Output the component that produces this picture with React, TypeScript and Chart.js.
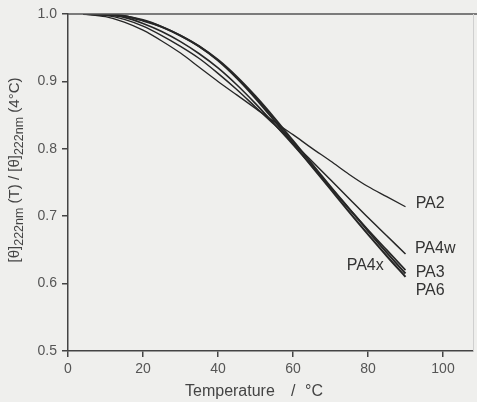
import React, { useEffect, useRef } from "react";
import { Chart, registerables } from "chart.js";

Chart.register(...registerables);

const temps = [4, 10, 15, 20, 25, 30, 35, 40, 45, 50, 55, 60, 65, 70, 75, 80, 85, 90];
const pa2 = [1.0, 0.996, 0.988, 0.976, 0.96, 0.942, 0.921, 0.9, 0.88, 0.86, 0.84, 0.821, 0.801, 0.782, 0.762, 0.744, 0.729, 0.714];
const pa4w = [1.0, 0.998, 0.992, 0.982, 0.968, 0.952, 0.934, 0.912, 0.888, 0.862, 0.836, 0.809, 0.782, 0.754, 0.726, 0.698, 0.671, 0.644];
const pa3 = [1.0, 0.999, 0.997, 0.99, 0.981, 0.968, 0.952, 0.932, 0.907, 0.878, 0.846, 0.812, 0.778, 0.744, 0.711, 0.678, 0.646, 0.615];
const pa6 = [1.0, 1.0, 0.997, 0.991, 0.981, 0.968, 0.952, 0.931, 0.905, 0.875, 0.842, 0.808, 0.774, 0.74, 0.706, 0.673, 0.641, 0.61];
const pa4x = [1.0, 0.999, 0.995, 0.986, 0.974, 0.959, 0.941, 0.92, 0.895, 0.867, 0.837, 0.806, 0.775, 0.743, 0.711, 0.68, 0.65, 0.62];

const seriesNames = ["PA2", "PA4w", "PA3", "PA6", "PA4x"];
const seriesValues = [pa2, pa4w, pa3, pa6, pa4x];
const seriesWidths = [1.3, 1.5, 2.0, 2.0, 1.6];

const labelNames = ["PA2", "PA4w", "PA4x", "PA3", "PA6"];
const labelT = [92.7, 92.5, 84.2, 92.7, 92.7];
const labelV = [0.718, 0.652, 0.626, 0.617, 0.59];
const labelAlign: CanvasTextAlign[] = ["left", "left", "right", "left", "left"];

const xTicks = [0, 20, 40, 60, 80, 100];
const yTicks = [0.5, 0.6, 0.7, 0.8, 0.9, 1.0];

const FONT = "'Liberation Sans', Arial, Helvetica, sans-serif";
const INK = "#262626";

export default function App() {
  const ref = useRef<HTMLCanvasElement | null>(null);

  useEffect(() => {
    if (!ref.current) return;
    const decor = {
      id: "decor",
      beforeDraw(chart: any) {
        const ctx = chart.ctx;
        ctx.save();
        ctx.fillStyle = "#efefed";
        ctx.fillRect(0, 0, chart.width, chart.height);
        ctx.restore();
      },
      afterDraw(chart: any) {
        const ctx = chart.ctx;
        const a = chart.chartArea;
        const xs = chart.scales.x;
        const ys = chart.scales.y;
        ctx.save();
        // top frame line
        ctx.strokeStyle = "#555";
        ctx.lineWidth = 1.5;
        ctx.beginPath();
        ctx.moveTo(a.left, a.top);
        ctx.lineTo(chart.width, a.top);
        ctx.stroke();
        // faint right frame
        ctx.strokeStyle = "#cfcfcf";
        ctx.lineWidth = 1;
        ctx.beginPath();
        ctx.moveTo(a.right + 0.5, a.top);
        ctx.lineTo(a.right + 0.5, a.bottom);
        ctx.stroke();

        // series labels
        ctx.fillStyle = "#333";
        ctx.font = `16px ${FONT}`;
        ctx.textBaseline = "middle";
        for (let i = 0; i < labelNames.length; i++) {
          ctx.textAlign = labelAlign[i];
          ctx.fillText(labelNames[i], xs.getPixelForValue(labelT[i]), ys.getPixelForValue(labelV[i]));
        }

        // x title
        ctx.fillStyle = "#444";
        ctx.font = `16px ${FONT}`;
        ctx.textAlign = "left";
        ctx.textBaseline = "alphabetic";
        ctx.fillText("Temperature", 185, 396);
        ctx.fillText("/", 291, 396);
        ctx.fillText("°C", 305, 396);

        // y title with subscripts
        const parts: [string, boolean][] = [
          ["[θ]", false],
          ["222nm", true],
          [" (T) / [θ]", false],
          ["222nm", true],
          [" (4°C)", false],
        ];
        const mainFont = `15px ${FONT}`;
        const subFont = `12.5px ${FONT}`;
        let total = 0;
        for (const [t, sub] of parts) {
          ctx.font = sub ? subFont : mainFont;
          total += ctx.measureText(t).width;
        }
        ctx.translate(19, 170);
        ctx.rotate(-Math.PI / 2);
        let x = -total / 2;
        for (const [t, sub] of parts) {
          ctx.font = sub ? subFont : mainFont;
          ctx.fillText(t, x, sub ? 4 : 0);
          x += ctx.measureText(t).width;
        }
        ctx.restore();
      },
    };

    const chart = new Chart(ref.current, {
      type: "line",
      data: {
        datasets: seriesNames.map((name, i) => ({
          label: name,
          data: temps.map((t, j) => ({ x: t, y: seriesValues[i][j] })),
          borderColor: INK,
          borderWidth: seriesWidths[i],
          pointRadius: 0,
          fill: false,
          cubicInterpolationMode: "monotone" as const,
        })),
      },
      options: {
        animation: false,
        responsive: false,
        devicePixelRatio: 1,
        layout: { padding: { left: 0, top: 14, right: 4, bottom: 0 } },
        plugins: { legend: { display: false }, tooltip: { enabled: false } },
        scales: {
          x: {
            type: "linear",
            min: 0,
            max: 108,
            afterBuildTicks: (s: any) => {
              s.ticks = xTicks.map((v) => ({ value: v }));
            },
            afterFit: (s: any) => {
              s.height = 51;
            },
            ticks: {
              font: { family: FONT, size: 14 },
              color: "#555",
              padding: 4,
              maxRotation: 0,
            },
            grid: { drawOnChartArea: false, drawTicks: true, tickLength: 6, color: "#444", lineWidth: 1.5 },
            border: { display: true, color: "#444", width: 1.5 },
          },
          y: {
            type: "linear",
            min: 0.5,
            max: 1.0,
            afterBuildTicks: (s: any) => {
              s.ticks = yTicks.map((v) => ({ value: v }));
            },
            afterFit: (s: any) => {
              s.width = 68;
            },
            ticks: {
              font: { family: FONT, size: 14 },
              color: "#555",
              padding: 5,
              callback: (v: any) => Number(v).toFixed(1),
            },
            grid: { drawOnChartArea: false, drawTicks: true, tickLength: 6, color: "#444", lineWidth: 1.5 },
            border: { display: true, color: "#444", width: 1.5 },
          },
        },
      },
      plugins: [decor],
    });
    return () => chart.destroy();
  }, []);

  return (
    <div style={{ position: "absolute", left: 0, top: 0, width: 477, height: 402 }}>
      <canvas ref={ref} width={477} height={402} />
    </div>
  );
}
